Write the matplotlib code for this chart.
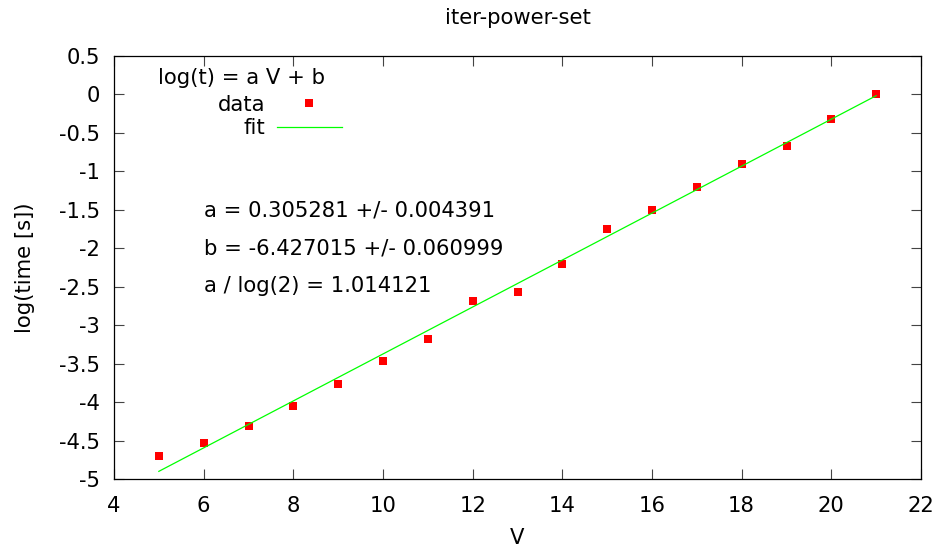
import matplotlib
matplotlib.use("Agg")
import matplotlib.pyplot as plt
import numpy as np

# measured points (V, log(time))
V = [5, 6, 7, 8, 9, 10, 11, 12, 13, 14, 15, 16, 17, 18, 19, 20, 21]
LOG_T = [-4.70, -4.53, -4.31, -4.05, -3.77, -3.47, -3.18, -2.69, -2.57,
         -2.21, -1.75, -1.50, -1.20, -0.90, -0.665, -0.32, 0.01]

# fit parameters shown on the chart
A = 0.305281
A_ERR = 0.004391
B = -6.427015
B_ERR = 0.060999
A_OVER_LOG2 = 1.014121

X_TICKS = [4, 6, 8, 10, 12, 14, 16, 18, 20, 22]
Y_TICKS = [0.5, 0, -0.5, -1, -1.5, -2, -2.5, -3, -3.5, -4, -4.5, -5]

FS = 15.2

plt.rcParams["font.family"] = ["DejaVu Sans"]

fig = plt.figure(figsize=(9.39, 5.51), dpi=100)
ax = fig.add_axes([114 / 939, 1 - 479 / 551, (921 - 114) / 939, (479 - 56) / 551])

ax.plot(V, LOG_T, "s", color="#ff0000", markersize=6, markeredgewidth=0,
        label="data")
xv = np.array([V[0], V[-1]])
ax.plot(xv, A * xv + B, color="#00ff00", linewidth=0.9, label="fit")

ax.set_xlim(4, 22)
ax.set_ylim(-5, 0.5)
ax.set_xticks(X_TICKS)
ax.set_yticks(Y_TICKS)
ax.set_xticklabels([str(t) for t in X_TICKS])
ax.set_yticklabels([f"{t:g}" for t in Y_TICKS])
ax.tick_params(direction="in", length=7.5, width=0.8, color="#444444",
               top=True, right=True, labelsize=FS)
ax.tick_params(axis="x", pad=12)
ax.tick_params(axis="y", pad=10)
for spine in ax.spines.values():
    spine.set_linewidth(0.9)

ax.set_xlabel("V", fontsize=FS, labelpad=9)
ax.set_ylabel("log(time [s])", fontsize=FS, labelpad=17)
ax.set_title("iter-power-set", fontsize=FS, pad=23)

fig.text(158 / 939, 1 - 78 / 551, "log(t) = a V + b", fontsize=FS,
         ha="left", va="center")
ax.legend(loc="center right", bbox_to_anchor=(342 / 939, 1 - 116.5 / 551),
          bbox_transform=fig.transFigure, frameon=False, markerfirst=False,
          fontsize=FS, borderpad=0, borderaxespad=0, handlelength=3.1,
          handletextpad=0.55, labelspacing=0.17, numpoints=1)

params = [
    f"a = {A:f} +/- {A_ERR:f}",
    f"b = {B:f} +/- {B_ERR:f}",
    f"a / log(2) = {A_OVER_LOG2:f}",
]
for txt, yp in zip(params, [210, 248, 286]):
    fig.text(204 / 939, 1 - yp / 551, txt, fontsize=FS, ha="left", va="center")

fig.savefig("out.png", dpi=100)
